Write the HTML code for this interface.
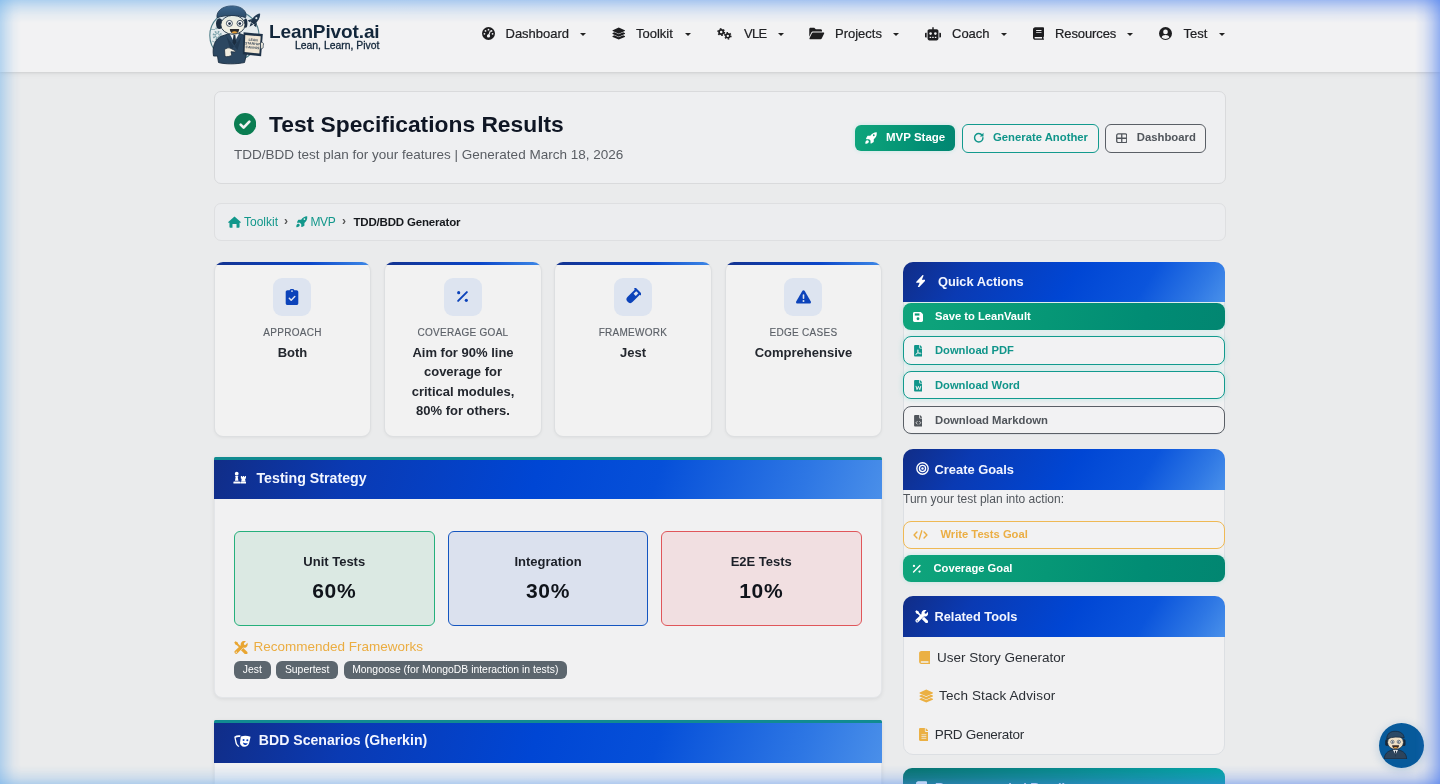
<!DOCTYPE html>
<html lang="en">
<head>
<meta charset="utf-8">
<title>Test Specifications Results - LeanPivot.ai</title>
<style>
*{box-sizing:border-box;margin:0;padding:0}
html,body{width:1440px;height:784px;overflow:hidden}
body{position:relative;background:#eaebec;font-family:"Liberation Sans",Arial,sans-serif;color:#212529;-webkit-font-smoothing:antialiased}
.abs{position:absolute}
svg{display:block}
.t{position:absolute;white-space:nowrap;line-height:1;transform-origin:0 50%}
/* navbar */
#nav{position:absolute;left:0;top:0;width:1440px;height:72px;background:#f2f2f3;box-shadow:0 1px 2px rgba(0,0,0,.07),0 2px 6px rgba(0,0,0,.06)}
.ni{position:absolute;top:26px;height:16px;display:flex;align-items:center;color:#222;font-size:13px;font-weight:400}
.ni svg{position:absolute;top:50%;transform:translateY(-50%);fill:#1d1d1f}
.caret{position:absolute;top:32.900px;width:0;height:0;border-left:3.200px solid transparent;border-right:3.200px solid transparent;border-top:3.600px solid #222}
/* cards */
.card{position:absolute;background:#f1f1f2;border:1px solid #dddfe1;border-radius:7px}
.hdr{position:absolute;left:0;right:0;top:0;background:linear-gradient(122deg,#112d87 0%,#0a3ab3 21%,#0046d4 52%,#0b55dc 74%,#2e77e4 90%,#4990ea 100%)}
.hdr .t{color:#f2f5ff;font-weight:700}
.btn{position:absolute;border-radius:7px;font-weight:700;font-size:11px}
.g{background:linear-gradient(100deg,#0fa57c 0%,#069776 45%,#018c74 75%,#028671 100%);color:#fff;box-shadow:0 0 4px rgba(45,212,191,.22)}
.ot{border:1.5px solid #129a8e;color:#10958a;background:#f2f2f3}
.og{border:1.5px solid #5a5f66;color:#50555b;background:#f2f2f3}
.oa{border:1.5px solid #efb955;color:#ebae44;background:#f2f2f3}
.nt{font-size:13px;line-height:18px;color:#202124;-webkit-text-stroke:.2px #202124}
.sc{top:262px;width:157px;height:175px;border-radius:9px;background:#f2f2f2;box-shadow:0 1px 3px rgba(0,0,0,.05)}
.bar{position:absolute;left:-1px;right:-1px;top:-1px;height:12px;border-radius:9px 9px 0 0;clip-path:inset(0 0 9px 0);background:linear-gradient(90deg,#14338f 0%,#0a45c8 60%,#3f8ae8 100%)}
.ib{position:absolute;left:50%;margin-left:-19.400px;top:14.500px;width:38.300px;height:38px;border-radius:9px;background:#dde4f0;display:flex;align-items:center;justify-content:center}
.lb{position:absolute;left:0;right:0;top:62.500px;text-align:center;font-size:10px;line-height:14px;letter-spacing:.28px;color:#5c6168;-webkit-text-stroke:.15px #5c6168}
.vl{position:absolute;left:6px;right:6px;text-align:center;font-size:13px;line-height:19.400px;font-weight:700;color:#23272e}
.mc{border-radius:2px 2px 8px 8px;box-shadow:0 1px 4px rgba(0,0,0,.08);border-color:#e3e5e8}
.tb{position:absolute;top:73px;width:200.500px;height:94.500px;border:1px solid;border-radius:6px;text-align:center;color:#1c2028;font-weight:700}
.t1{position:absolute;left:0;right:0;top:21px;font-size:13px;line-height:18px}
.t2{position:absolute;left:0;right:0;top:45px;font-size:21px;line-height:28px;letter-spacing:.6px;color:#10141b}
.bdg{position:absolute;top:202.800px;height:18px;border-radius:6px;background:#5c666e;color:#fff;font-size:10.400px;line-height:18px;text-align:center;white-space:nowrap}
.sb{left:903px;width:322px;border-radius:10px;border-color:#dcdfe3}
.sh{left:-1px;right:-1px;top:-1px;border-radius:10px 10px 0 0}
.sbtn{left:-1px;right:-1px;border-radius:8px;font-size:11.200px}
.sbtn .t{line-height:16px}
.sbtn.ot{box-shadow:0 0 5px 1px rgba(45,212,191,.20)}
.rl{font-size:13.500px;line-height:20px;color:#2b2f35}
</style>
</head>
<body>
<!--NAV-->
<div id="nav">
  <!-- mascot logo -->
  <svg class="abs" style="left:200px;top:0" width="80" height="72" viewBox="0 0 80 72">
    <circle cx="34.400" cy="35.600" r="24.600" fill="#e6ecee" stroke="#4f7d88" stroke-width="1.100"/>
    <g fill="none" stroke="#7fa3ab"><circle cx="17.300" cy="35.500" r="3.600" stroke-width="2.200" stroke-dasharray="1.500 1.330"/><circle cx="17.300" cy="35.500" r="2" stroke-width="1"/><path d="M10.500 29.500h4.500l1.500-1.500M12 41l3.500 1.500" stroke-width=".8"/><circle cx="16.800" cy="28" r=".9" stroke-width=".7"/></g>
    <!-- rocket -->
    <g transform="rotate(38 54.500 20.500)"><path d="M54.500 11.500c2.600 2.500 3.400 6.500 2.600 12.500h-5.200c-.8-6 0-10 2.600-12.500z" fill="#1e3247"/><path d="M51.700 20.500l-2.700 4.200 3 .1zM57.300 20.500l2.700 4.200-3 .1zM53 24.500h3l-1.500 4z" fill="#1e3247"/><circle cx="54.500" cy="17.500" r="1.100" fill="#e6ecee"/></g>
    <!-- suit body -->
    <path d="M13.500 56c-1.500-9 1.500-17.500 8.500-20l8.500-2.800h8l7.500 2.800c1.500 5 1.500 11 1 16l-2.500 10.500c-8 1.800-20 1.800-26 0l-1-6.500z" fill="#2c4761" stroke="#1a2c3f" stroke-width=".9"/>
    <path d="M29.500 33.500l4.800 9 4.800-9z" fill="#f2f5f6"/>
    <path d="M33.500 35h1.800l1 7.500-1.900 3-1.900-3z" fill="#1b2d40"/>
    <path d="M26.500 36.500l7.500 10-3.500 3.500zM41.500 36.500l-7 10 3 3.500z" fill="#223a52"/>
    <!-- pointing hand -->
    <path d="M24.500 49.500c2-1.500 4-2 5.500-1.500l5 2.500c.8.500.3 1.500-.5 1.500l-3.500-.3.800 3.300c-1.500 1.500-4.500 2-6.800 1.500z" fill="#f0ece0" stroke="#1a2c3f" stroke-width=".8"/>
    <!-- clipboard -->
    <path d="M43.600 32.300l19.200 1.700-1.700 22.300-18.300-2z" fill="#1e3247"/>
    <path d="M45.300 35l15.400 1.300-1.300 17.300-14.800-1.500z" fill="#f0e6d4"/>
    <g font-family="Liberation Sans,Arial,sans-serif" font-weight="700" font-size="3.300" fill="#1e3247" text-anchor="middle" transform="rotate(5 52.500 44)"><text x="52.800" y="41">LEAN</text><text x="52.800" y="44.800">STARTUP</text><text x="52.800" y="48.600">CANVAS</text></g>
    <path d="M60.500 42.500c1.500-.5 3 .2 3 1.500s-.5 1.500-.3 2.500-.5 2.500-2.500 2.500z" fill="#f0ece0" stroke="#1a2c3f" stroke-width=".7"/>
    <!-- head -->
    <ellipse cx="19.400" cy="23.600" rx="3.400" ry="5.400" fill="#1b2d40"/>
    <ellipse cx="45.600" cy="23.200" rx="1.800" ry="4.600" fill="#1b2d40"/>
    <ellipse cx="32.900" cy="24.800" rx="12.100" ry="9.500" fill="#f1f0e3" stroke="#1a2c3f" stroke-width=".9"/>
    <path d="M17 17.600c-.8-6.500 5.500-11.500 14.500-11.700 8.500-.2 14.500 4 14.500 9.200 0 1-.2 1.800-.5 2.500-8-2.800-19.500-2.800-28.500 0z" fill="#2b4a66" stroke="#1a2c3f" stroke-width=".9"/>
    <circle cx="29.400" cy="23.400" r="3" fill="#fff" stroke="#1b2d40" stroke-width=".8"/>
    <circle cx="40" cy="23.400" r="3" fill="#fff" stroke="#1b2d40" stroke-width=".8"/>
    <circle cx="29.600" cy="23.600" r="1.400" fill="#1b2d40"/><circle cx="39.800" cy="23.600" r="1.400" fill="#1b2d40"/>
    <path d="M29.800 29h9.400c0 3.200-2 4.800-4.700 4.800s-4.700-1.600-4.700-4.800z" fill="#2a2a2c"/>
    <path d="M31.600 32.200c1.500-1.200 4.300-1.200 5.800 0-1 1.500-4.800 1.500-5.800 0z" fill="#e9a23b"/>
  </svg>
  <div class="t" id="brand" style="left:269px;top:20px;font-size:19px;font-weight:700;color:#12263a;letter-spacing:-.12px;line-height:24px">LeanPivot.ai</div>
  <div class="t" id="tag" style="left:295px;top:38.500px;font-size:10.400px;color:#12263a;line-height:14px;-webkit-text-stroke:.3px #12263a">Lean, Learn, Pivot</div>

  <!-- Dashboard -->
  <svg class="abs" style="left:482px;top:27px" width="13" height="13" viewBox="0 0 16 16"><circle cx="8" cy="8" r="8" fill="#1d1d1f"/><g fill="#f2f2f3"><circle cx="8" cy="3.300" r="1.100"/><circle cx="4.300" cy="4.800" r="1.100"/><circle cx="11.700" cy="4.800" r="1.100"/><circle cx="3" cy="8.400" r="1.100"/><circle cx="13" cy="8.400" r="1.100"/><circle cx="8" cy="11" r="2"/><path d="M7.300 10.500l2.600-6.300 1.200.5-2.500 6.300z"/></g></svg>
  <div class="t nt" style="left:505.500px;top:25.200px">Dashboard</div><i class="caret" style="left:579.500px"></i>
  <!-- Toolkit -->
  <svg class="abs" style="left:611.500px;top:27px" width="13.500" height="13" viewBox="0 0 16 16"><path fill="#1d1d1f" d="M8 .6l7.400 3.300c.5.200.5.900 0 1.100L8 8.300.6 5C.1 4.800.1 4.100.6 3.900z"/><path fill="#1d1d1f" d="M.6 7.500l2-.9L8 9l5.400-2.400 2 .9c.5.200.5.900 0 1.100L8 11.900.6 8.600c-.5-.2-.5-.9 0-1.100z"/><path fill="#1d1d1f" d="M.6 11.100l2-.9L8 12.600l5.400-2.400 2 .9c.5.200.5.900 0 1.100L8 15.500.6 12.200c-.5-.2-.5-.9 0-1.100z"/></svg>
  <div class="t nt" style="left:636px;top:25.200px">Toolkit</div><i class="caret" style="left:685px"></i>
  <!-- VLE gears -->
  <svg class="abs" style="left:717.300px;top:27.800px" width="15" height="11.850" viewBox="0 0 19 15"><g fill="none" stroke="#1d1d1f"><circle cx="5.300" cy="5.200" r="2.700" stroke-width="2.200"/><circle cx="5.300" cy="5.200" r="4.100" stroke-width="1.900" stroke-dasharray="2 2.290"/><circle cx="13.700" cy="9.900" r="2.500" stroke-width="2"/><circle cx="13.700" cy="9.900" r="3.900" stroke-width="1.900" stroke-dasharray="1.900 2.180"/></g></svg>
  <div class="t nt" style="left:744px;top:25.200px;letter-spacing:-.7px">VLE</div><i class="caret" style="left:777.500px"></i>
  <!-- Projects folder-open -->
  <svg class="abs" style="left:809px;top:27px" width="15.500" height="13" viewBox="0 0 18 15"><path fill="#1d1d1f" d="M1.800.8h4.300l1.800 1.800h5.600c.9 0 1.600.7 1.600 1.600v.9H4.700c-.9 0-1.700.5-2.100 1.300L.3 11.300V2.300C.3 1.500 1 .8 1.800.8z"/><path fill="#1d1d1f" d="M4.700 6.300h12.100c.7 0 1.100.7.800 1.300l-2.800 5.700c-.3.500-.8.900-1.400.9H1.300c-.6 0-1-.6-.7-1.200l2.800-5.900c.2-.5.700-.8 1.300-.8z"/></svg>
  <div class="t nt" style="left:835px;top:25.200px">Projects</div><i class="caret" style="left:893px"></i>
  <!-- Coach robot -->
  <svg class="abs" style="left:925px;top:26.500px" width="16" height="14" viewBox="0 0 20 17"><path fill="#1d1d1f" d="M9.100 0h1.800v2.600h3.600c1.300 0 2.300 1 2.300 2.300v9.300c0 1.300-1 2.300-2.300 2.300h-9c-1.300 0-2.300-1-2.300-2.300V4.900c0-1.300 1-2.300 2.300-2.300h3.600zM0 7.800c0-.6.400-1 1-1h1.100v6H1c-.6 0-1-.4-1-1zM17.900 6.800H19c.6 0 1 .4 1 1v4c0 .6-.4 1-1 1h-1.100z"/><g fill="#f2f2f3"><circle cx="7" cy="8" r="1.600"/><circle cx="13" cy="8" r="1.600"/><rect x="5.800" y="12" width="1.900" height="1.500"/><rect x="9" y="12" width="1.900" height="1.500"/><rect x="12.300" y="12" width="1.900" height="1.500"/></g></svg>
  <div class="t nt" style="left:952px;top:25.200px">Coach</div><i class="caret" style="left:1001px"></i>
  <!-- Resources book -->
  <svg class="abs" style="left:1033px;top:27px" width="11" height="13" viewBox="0 0 14 16"><path fill="#1d1d1f" d="M2.800 0h10.100c.6 0 1.100.5 1.100 1.100v10.300c0 .5-.3.900-.7 1v2h.1c.4 0 .6.300.6.800s-.2.800-.6.800H2.800C1.200 16 0 14.800 0 13.300V2.800C0 1.200 1.200 0 2.800 0z"/><path fill="#f2f2f3" d="M2.800 12.600c-.5 0-.9.400-.9.900s.4.900.9.900h8.700v-1.800zM4 3.700h6.800v1.200H4zM4 6.300h6.800v1.200H4z"/></svg>
  <div class="t nt" style="left:1055px;top:25.200px;letter-spacing:-.1px">Resources</div><i class="caret" style="left:1127px"></i>
  <!-- Test user -->
  <svg class="abs" style="left:1158.500px;top:27px" width="13" height="13" viewBox="0 0 16 16"><circle cx="8" cy="8" r="8" fill="#1d1d1f"/><circle cx="8" cy="6" r="2.900" fill="#f2f2f3"/><path fill="#f2f2f3" d="M3.200 12.600c.7-1.900 2.300-2.900 4.800-2.900s4.100 1 4.800 2.900c-1.200 1.300-2.900 2.100-4.800 2.100s-3.600-.8-4.800-2.100z"/></svg>
  <div class="t nt" style="left:1183.500px;top:25.200px">Test</div><i class="caret" style="left:1219px"></i>
</div>
<!--/NAV-->
<!--TITLE-->
<div class="card" id="titlecard" style="left:214px;top:91px;width:1012px;height:93px;background:#eeeff1;border-color:#d9dadc">
  <svg class="abs" style="left:19px;top:21.200px" width="22.200" height="22.200" viewBox="0 0 24 24"><circle cx="12" cy="12" r="12" fill="#0a7d52"/><path d="M7.200 12.600l3.200 3.200 6.200-6.400" fill="none" stroke="#f1f2f3" stroke-width="2.900" stroke-linecap="round" stroke-linejoin="round"/></svg>
  <div class="t" id="h1" style="left:54px;top:17.200px;font-size:22.800px;font-weight:700;color:#0f1624;line-height:30px;letter-spacing:0px">Test Specifications Results</div>
  <div class="t" id="sub" style="left:19px;top:54px;font-size:13.500px;color:#595d63;line-height:18px">TDD/BDD test plan for your features | Generated March 18, 2026</div>
  <!-- buttons -->
  <div class="btn g" id="b1" style="left:640px;top:33.300px;width:100px;height:25.700px;border-radius:6px">
    <svg class="abs" style="left:10px;top:7px" width="12" height="12" viewBox="0 0 16 16"><path fill="#fff" d="M15.600.4c.5 3.800-.8 7-3.900 9.300v3.100c0 .4-.2.800-.6 1l-2.700 1.500c-.5.300-1.100-.1-1.100-.7v-3.200L5.400 9.500H2.200c-.6 0-1-.6-.7-1.100L3 5.700c.2-.4.600-.6 1-.6h3.100C9.400 2 12.600.2 15.600.4zM11.700 5.500a1.200 1.200 0 100-2.400 1.200 1.200 0 000 2.400zM.5 15.500c-.2-2 .3-3.500 1.500-4.300.9-.6 2.100-.4 2.700.3.700.8.600 2-.2 2.700-.9.900-2.200 1.300-4 1.300z"/></svg>
    <div class="t" style="left:31px;top:4.200px;font-size:11.500px;line-height:16px">MVP Stage</div>
  </div>
  <div class="btn ot" id="b2" style="left:747px;top:32px;width:136.800px;height:28.500px;border-radius:6px">
    <svg class="abs" style="left:9.500px;top:7px" width="11.500" height="11.500" viewBox="0 0 16 16"><path fill="none" stroke="#10958a" stroke-width="2" stroke-linecap="round" d="M13.800 8A5.800 5.800 0 118 2.200c2 0 3.700 1 4.800 2.500"/><path fill="#10958a" d="M14.600 1v5.200H9.400z"/></svg>
    <div class="t" style="left:30px;top:4.200px;font-size:11.300px;line-height:16px">Generate Another</div>
  </div>
  <div class="btn og" id="b3" style="left:890.300px;top:32px;width:100.500px;height:28.500px;border-radius:6px">
    <svg class="abs" style="left:9.500px;top:7.500px" width="11.500" height="10.500" viewBox="0 0 16 14"><rect x="1" y="1" width="14" height="12" rx="2" fill="none" stroke="#50555b" stroke-width="1.800"/><path d="M8 1v12M1 7h14" stroke="#50555b" stroke-width="1.800"/></svg>
    <div class="t" style="left:30.500px;top:4.200px;font-size:11.300px;line-height:16px">Dashboard</div>
  </div>
</div>
<div class="card" id="bc" style="left:214px;top:203px;width:1012px;height:38px;background:#ecedef;border-color:#dedfe1">
  <svg class="abs" style="left:13px;top:11.500px" width="13" height="12" viewBox="0 0 16 14"><path fill="#12978b" d="M8 .3l7.700 6.600c.4.400.2 1-.4 1h-1.100v5.200c0 .5-.4.900-.9.900h-2.800V9.500h-5V14H2.700c-.5 0-.9-.4-.9-.9V7.900H.7c-.6 0-.8-.6-.4-1z"/></svg>
  <div class="t" id="bc1" style="left:29px;top:9.500px;font-size:12px;line-height:16px;color:#12978b">Toolkit</div>
  <div class="t" style="left:69px;top:9px;font-size:12px;line-height:16px;color:#555;font-weight:700">›</div>
  <svg class="abs" style="left:81px;top:12px" width="11.500" height="11.500" viewBox="0 0 16 16"><path fill="#12978b" d="M15.600.4c.5 3.800-.8 7-3.900 9.300v3.100c0 .4-.2.800-.6 1l-2.700 1.500c-.5.300-1.100-.1-1.100-.7v-3.200L5.400 9.500H2.200c-.6 0-1-.6-.7-1.100L3 5.700c.2-.4.600-.6 1-.6h3.100C9.400 2 12.600.2 15.600.4zM11.700 5.500a1.200 1.200 0 100-2.400 1.200 1.200 0 000 2.400zM.5 15.500c-.2-2 .3-3.500 1.500-4.300.9-.6 2.100-.4 2.700.3.700.8.600 2-.2 2.700-.9.900-2.200 1.300-4 1.300z"/></svg>
  <div class="t" id="bc2" style="left:95.500px;top:9.500px;font-size:12px;line-height:16px;color:#12978b;letter-spacing:-.4px">MVP</div>
  <div class="t" style="left:127px;top:9px;font-size:12px;line-height:16px;color:#555;font-weight:700">›</div>
  <div class="t" id="bc3" style="left:138.500px;top:9.500px;font-size:11.500px;line-height:16px;color:#16191d;font-weight:700;letter-spacing:-.18px">TDD/BDD Generator</div>
</div>
<!--/TITLE-->
<!--STATS-->
<div class="card sc" style="left:214px;width:157px"><i class="bar"></i><div class="ib">
  <svg width="14" height="16" viewBox="0 0 14 16"><path fill="#0c43ba" d="M4.600 1.300C4.900.5 5.700 0 6.600 0h.8c.9 0 1.700.5 2 1.300h2.100c1 0 1.800.8 1.800 1.800v11.100c0 1-.8 1.800-1.800 1.800h-9c-1 0-1.800-.8-1.800-1.800V3.100c0-1 .8-1.800 1.800-1.800zM7 1.200a.9.900 0 100 1.800.9.900 0 000-1.800z"/><path d="M4.300 9.300l1.900 1.900 3.600-3.700" fill="none" stroke="#dde4f0" stroke-width="1.500" stroke-linecap="round" stroke-linejoin="round"/></svg></div>
  <div class="lb">APPROACH</div><div class="vl" style="top:80px">Both</div></div>
<div class="card sc" style="left:384px;width:158px"><i class="bar"></i><div class="ib">
  <svg width="13" height="13" viewBox="0 0 14 14"><path d="M2.300 11.700l9.400-9.400" stroke="#0c43ba" stroke-width="2.100" stroke-linecap="round"/><circle cx="2.900" cy="2.900" r="1.700" fill="#0c43ba"/><circle cx="11.100" cy="11.100" r="1.700" fill="#0c43ba"/></svg></div>
  <div class="lb">COVERAGE GOAL</div><div class="vl" style="top:80px">Aim for 90% line<br>coverage for<br>critical modules,<br>80% for others.</div></div>
<div class="card sc" style="left:554px;width:158px"><i class="bar"></i><div class="ib">
  <svg width="16.500" height="16.500" viewBox="0 0 16 16"><g transform="rotate(45 8 8)"><path fill="#0c43ba" d="M4.300.5h7.400c.6 0 1 .4 1 1s-.4 1-1 1h-.2v9.700a3.500 3.500 0 01-7 0V2.500h-.2c-.6 0-1-.4-1-1s.4-1 1-1z"/><path fill="#dde4f0" d="M6.500 2.500h3v3.600h-3z"/></g></svg></div>
  <div class="lb">FRAMEWORK</div><div class="vl" style="top:80px">Jest</div></div>
<div class="card sc" style="left:725px;width:157px"><i class="bar"></i><div class="ib">
  <svg width="15" height="14" viewBox="0 0 16 14.500"><path fill="#0c43ba" d="M8 0c.5 0 1 .3 1.300.8l6.500 11.300c.5 1-.2 2.200-1.300 2.200h-13c-1.100 0-1.800-1.200-1.300-2.200L6.700.8C7 .3 7.500 0 8 0z"/><rect x="7.150" y="4.300" width="1.700" height="5" rx=".85" fill="#dde4f0"/><circle cx="8" cy="11.400" r="1.050" fill="#dde4f0"/></svg></div>
  <div class="lb">EDGE CASES</div><div class="vl" style="top:80px">Comprehensive</div></div>
<!--/STATS-->
<!--STRATEGY-->
<div class="card mc" id="strat" style="left:214px;top:457px;width:668px;height:241px">
  <div class="hdr" style="left:-1px;right:-1px;top:-1px;height:41.500px;border-top:3px solid #118b91;border-radius:1.500px 1.500px 0 0;background:linear-gradient(108deg,#112d87 0%,#0a3ab3 20%,#0046d4 48%,#0650d9 66%,#2e77e4 88%,#4a8fe9 100%)">
    <svg class="abs" style="left:19.300px;top:11px" width="13.200" height="13.500" viewBox="0 0 16 15"><g fill="#fff"><circle cx="4.500" cy="2.600" r="2.300"/><path d="M2.300 5.300h4.400l-.9 1.200.8 4.700H2.400l.8-4.700zM1.200 11.900h6.600c.4 0 .7.300.7.700v1.900H.5v-1.900c0-.4.300-.7.700-.7z"/><path d="M9.600 5.300h1.300v1h1.100v-1h1.400v1h1.100v-1h1.200v2.800l-1 .8.500 3H10l.5-3-1-.8zM9.300 12.500h6.100c.3 0 .6.300.6.600v1.400H8.800v-1.400c0-.3.200-.6.500-.6z"/></g></svg>
    <div class="t" id="ts" style="left:42.500px;top:7.500px;font-size:14.200px;line-height:20px">Testing Strategy</div>
  </div>
  <div class="tb" style="left:19px;background:#dbe9e3;border-color:#25b07c"><div class="t1">Unit Tests</div><div class="t2">60%</div></div>
  <div class="tb" style="left:233px;width:200px;background:#dbe1ee;border-color:#1455c0"><div class="t1">Integration</div><div class="t2">30%</div></div>
  <div class="tb" style="left:446px;background:#f1dfe1;border-color:#e0565a"><div class="t1">E2E Tests</div><div class="t2">10%</div></div>
  <svg class="abs" style="left:19px;top:182.500px" width="13.500" height="13.500" viewBox="0 0 16 16"><g fill="#e9a632"><path d="M.3 1.700L1.700.3l2.800 1.600.4 1.500L8.400 6.900 6.900 8.400 3.400 4.900l-1.500-.4z"/><path d="M10.940 8.260l4.600 4.600a1.900 1.900 0 01-2.680 2.680l-4.600-4.600z"/><path d="M12.200 0c.7 0 1.300.1 1.900.4l-2.400 2.400.3 1.500 1.500.3 2.400-2.400c.2.600.3 1.200.3 1.800a4 4 0 01-5.300 3.800L4.100 14.600a2.050 2.050 0 01-2.900-2.900L8 4.900A4 4 0 0112.200 0zM2.700 12.400a.8.800 0 100 1.600.8.800 0 000-1.600z" fill-rule="evenodd"/></g></svg>
  <div class="t" id="rf" style="left:38.500px;top:180px;font-size:13.500px;line-height:18px;color:#ebad42">Recommended Frameworks</div>
  <div class="bdg" style="left:19px;width:36.500px">Jest</div>
  <div class="bdg" style="left:61px;width:62.300px">Supertest</div>
  <div class="bdg" style="left:129px;width:222.500px">Mongoose (for MongoDB interaction in tests)</div>
</div>
<!--/STRATEGY-->
<!--BDD-->
<div class="card mc" id="bdd" style="left:214px;top:720px;width:668px;height:120px">
  <div class="hdr" style="left:-1px;right:-1px;top:-1px;height:42.500px;border-top:3px solid #118b91;border-radius:1.500px 1.500px 0 0;background:linear-gradient(108deg,#112d87 0%,#0a3ab3 20%,#0046d4 48%,#0650d9 66%,#2e77e4 88%,#4a8fe9 100%)">
    <svg class="abs" style="left:19.500px;top:10.500px" width="17" height="13.500" viewBox="0 0 20 16"><g fill="#fff"><path d="M.2 3.300C2.500 1.700 5 1.200 7.800 1.800L7 3.600c-1.900-.3-3.600 0-5.100.9l1.500 6.400c.3 1.200 1 2.100 2 2.700l.9 1.900c-2.300-.6-4-2.200-4.600-4.500z"/><path d="M8 3.100c3.600-1.500 7.300-1.500 11.600.2l-1.700 7.400c-.7 2.900-3.300 4.800-6.200 4.500-2.400-.3-4.300-2.100-4.700-4.500z"/></g><g fill="#0a3db8"><circle cx="11.300" cy="7" r="1.200"/><circle cx="15.700" cy="7.400" r="1.200"/><path d="M10.600 10.100c1.700 1 3.600 1.200 5.600.5-.5 1.600-1.700 2.500-3.200 2.400-1.400-.1-2.300-1.200-2.400-2.900z"/></g></svg>
    <div class="t" id="bs" style="left:44.800px;top:7.400px;font-size:14.100px;line-height:20px">BDD Scenarios (Gherkin)</div>
  </div>
</div>
<!--/BDD-->
<!--SIDEBAR-->
<div class="card sb" id="qa" style="top:262px;height:172.500px">
  <div class="hdr sh" style="height:40px">
    <svg class="abs" style="left:12.700px;top:12.600px" width="9.600" height="12.800" viewBox="0 0 12 16"><path fill="#fff" d="M8.700 0c.6 0 .9.500.7 1L7.300 6h3.800c.7 0 1 .8.500 1.300L3.300 15.800c-.6.500-1.400-.1-1.100-.8L4.600 9.700H.9c-.7 0-1-.8-.5-1.300L8 .3c.2-.2.400-.3.700-.3z"/></svg>
    <div class="t" id="qat" style="left:35px;top:9.500px;font-size:12.800px;line-height:20px">Quick Actions</div>
  </div>
  <div class="btn g sbtn" style="top:40px;height:27px">
    <svg class="abs" style="left:9.500px;top:8.500px" width="10" height="10" viewBox="0 0 14 14"><path fill="#fff" d="M2 0h8.200c.5 0 1 .2 1.400.6l1.800 1.800c.4.400.6.900.6 1.400V12c0 1.100-.9 2-2 2H2c-1.100 0-2-.9-2-2V2C0 .9.900 0 2 0z"/><path fill="#0c9a77" d="M2.500 2h6.500v3H2.500z"/><circle cx="7" cy="9.500" r="2" fill="#0c9a77"/></svg>
    <div class="t" style="left:32px;top:4.700px">Save to LeanVault</div>
  </div>
  <div class="btn ot sbtn" style="top:73px;height:29px">
    <svg class="abs" style="left:9.700px;top:8.300px" width="8.800" height="11.500" viewBox="0 0 12 16"><path fill="#10958a" d="M1.500 0h5.700v3.800c0 .6.400 1 1 1H12v9.700c0 .8-.7 1.500-1.500 1.500h-9C.7 16 0 15.300 0 14.500v-13C0 .7.700 0 1.500 0zM8.200 0L12 3.800H8.200z"/><path fill="none" stroke="#f3f4f5" stroke-width="1" d="M2.200 13.200c1.200-.6 2.200-1.800 3-3.600.6-1.400.8-2.500.4-2.900-.4-.3-.9.100-.8 1 .2 1.600 1.300 3.200 3.200 4.300 1 .5 1.700.3 1.700-.2 0-.6-1-.8-2.500-.6-1.700.2-3.400.8-5 2z"/></svg>
    <div class="t" style="left:31px;top:4.700px">Download PDF</div>
  </div>
  <div class="btn ot sbtn" style="top:108px;height:28px">
    <svg class="abs" style="left:9.700px;top:8.300px" width="8.800" height="11.500" viewBox="0 0 12 16"><path fill="#10958a" d="M1.500 0h5.700v3.800c0 .6.400 1 1 1H12v9.700c0 .8-.7 1.500-1.500 1.500h-9C.7 16 0 15.300 0 14.500v-13C0 .7.700 0 1.500 0zM8.200 0L12 3.800H8.200z"/><path fill="none" stroke="#f3f4f5" stroke-width="1.300" stroke-linejoin="round" d="M2.600 8.200l1.500 5.200L6 8.800l1.900 4.600 1.500-5.200"/></svg>
    <div class="t" style="left:31px;top:5.200px">Download Word</div>
  </div>
  <div class="btn og sbtn" style="top:143px;height:28px">
    <svg class="abs" style="left:9.700px;top:8.300px" width="8.800" height="11.500" viewBox="0 0 12 16"><path fill="#50555b" d="M1.500 0h5.700v3.800c0 .6.400 1 1 1H12v9.700c0 .8-.7 1.500-1.500 1.500h-9C.7 16 0 15.300 0 14.500v-13C0 .7.700 0 1.500 0zM8.200 0L12 3.800H8.200z"/><path fill="none" stroke="#f3f4f5" stroke-width="1.100" stroke-linecap="round" stroke-linejoin="round" d="M4.300 9L2.700 10.800l1.600 1.800M7.700 9l1.600 1.800-1.600 1.800"/></svg>
    <div class="t" style="left:31px;top:5.200px;font-size:11.300px">Download Markdown</div>
  </div>
</div>

<div class="card sb" id="cg" style="top:449px;height:133px">
  <div class="hdr sh" style="height:41px">
    <svg class="abs" style="left:12.500px;top:13px" width="13" height="13" viewBox="0 0 16 16"><g fill="none" stroke="#fff"><circle cx="8" cy="8" r="7" stroke-width="1.700"/><circle cx="8" cy="8" r="3.800" stroke-width="1.600"/></g><circle cx="8" cy="8" r="1.500" fill="#fff"/></svg>
    <div class="t" id="cgt" style="left:31.500px;top:10.500px;font-size:12.900px;line-height:20px">Create Goals</div>
  </div>
  <div class="t" id="turn" style="left:-1px;top:41.300px;font-size:12px;line-height:16px;color:#51565c;letter-spacing:0">Turn your test plan into action:</div>
  <div class="btn oa sbtn" style="top:71px;height:28px">
    <svg class="abs" style="left:9px;top:7.500px" width="15" height="10" viewBox="0 0 18 12"><path fill="none" stroke="#ebae44" stroke-width="1.700" stroke-linecap="round" stroke-linejoin="round" d="M4.700 2.500L1.300 6l3.400 3.500M13.300 2.500L16.700 6l-3.400 3.500M10.500 1L7.500 11"/></svg>
    <div class="t" style="left:36.500px;top:4.300px">Write Tests Goal</div>
  </div>
  <div class="btn g sbtn" style="top:105px;height:27px">
    <svg class="abs" style="left:8.500px;top:9px" width="9.500" height="9.500" viewBox="0 0 14 14"><path d="M2.300 11.700l9.400-9.400" stroke="#fff" stroke-width="2.100" stroke-linecap="round"/><circle cx="2.900" cy="2.900" r="1.700" fill="#fff"/><circle cx="11.100" cy="11.100" r="1.700" fill="#fff"/></svg>
    <div class="t" style="left:30.500px;top:4.800px">Coverage Goal</div>
  </div>
</div>

<div class="card sb" id="rt" style="top:596px;height:158.500px">
  <div class="hdr sh" style="height:41px">
    <svg class="abs" style="left:12.200px;top:13.500px" width="13.100" height="13.100" viewBox="0 0 16 16"><g fill="#fff"><path d="M.3 1.700L1.700.3l2.800 1.600.4 1.500L8.400 6.900 6.900 8.400 3.400 4.900l-1.500-.4z"/><path d="M10.940 8.260l4.600 4.600a1.900 1.900 0 01-2.680 2.680l-4.600-4.600z"/><path d="M12.200 0c.7 0 1.300.1 1.900.4l-2.400 2.400.3 1.500 1.500.3 2.400-2.400c.2.600.3 1.200.3 1.800a4 4 0 01-5.300 3.800L4.100 14.600a2.050 2.050 0 01-2.900-2.900L8 4.900A4 4 0 0112.200 0zM2.700 12.400a.8.800 0 100 1.600.8.800 0 000-1.600z" fill-rule="evenodd"/></g></svg>
    <div class="t" id="rtt" style="left:31.500px;top:10.500px;font-size:12.800px;line-height:20px">Related Tools</div>
  </div>
  <svg class="abs" style="left:14.500px;top:53.700px" width="11.600" height="13" viewBox="0 0 14 16"><path fill="#ebb043" d="M2.800 0h10.100c.6 0 1.100.5 1.100 1.100v10.300c0 .5-.3.900-.7 1v2h.1c.4 0 .6.300.6.800s-.2.800-.6.800H2.800C1.200 16 0 14.800 0 13.300V2.800C0 1.200 1.200 0 2.800 0z"/><path fill="#f1f2f3" d="M2.800 12.600c-.5 0-.9.400-.9.900s.4.900.9.900h8.700v-1.800z"/></svg>
  <div class="t rl" id="r1" style="left:33px;top:51px">User Story Generator</div>
  <svg class="abs" style="left:14.500px;top:91.500px" width="14.500" height="14" viewBox="0 0 16 16"><g fill="#ebb043"><path d="M8 .6l7.400 3.300c.5.200.5.900 0 1.100L8 8.300.6 5C.1 4.800.1 4.100.6 3.900z"/><path d="M.6 7.500l2-.9L8 9l5.400-2.400 2 .9c.5.200.5.900 0 1.100L8 11.900.6 8.600c-.5-.2-.5-.9 0-1.100z"/><path d="M.6 11.100l2-.9L8 12.600l5.400-2.400 2 .9c.5.200.5.900 0 1.100L8 15.500.6 12.200c-.5-.2-.5-.9 0-1.100z"/></g></svg>
  <div class="t rl" id="r2" style="left:35px;top:89px;letter-spacing:.13px">Tech Stack Advisor</div>
  <svg class="abs" style="left:14.500px;top:131px" width="9.800" height="13" viewBox="0 0 12 16"><path fill="#ebb043" d="M1.500 0h5.700v3.800c0 .6.400 1 1 1H12v9.700c0 .8-.7 1.500-1.500 1.500h-9C.7 16 0 15.300 0 14.500v-13C0 .7.700 0 1.500 0zM8.200 0L12 3.800H8.200z"/><path stroke="#f1f2f3" stroke-width=".9" fill="none" d="M3 8.300h6M3 10.500h6M3 12.700h6"/></svg>
  <div class="t rl" id="r3" style="left:30.700px;top:128px;letter-spacing:-.3px">PRD Generator</div>
</div>

<div class="card sb" id="rr" style="top:767.500px;height:60px;border:none">
  <div class="hdr" style="height:41px;border-radius:9px 9px 0 0;background:linear-gradient(100deg,#06736e 0%,#068a8a 50%,#04a5a5 100%)">
    <svg class="abs" style="left:13px;top:13px" width="11" height="13" viewBox="0 0 14 16"><path fill="#fff" d="M2.800 0h10.100c.6 0 1.100.5 1.100 1.100v10.300c0 .5-.3.900-.7 1v2h.1c.4 0 .6.300.6.800s-.2.800-.6.800H2.800C1.200 16 0 14.800 0 13.300V2.800C0 1.200 1.200 0 2.800 0z"/></svg>
    <div class="t" style="left:32px;top:10.500px;font-size:12.800px;line-height:20px">Recommended Reading</div>
  </div>
</div>
<!--/SIDEBAR-->
<!--CHAT-->
<div class="abs" id="chat" style="left:1378.500px;top:722.500px;width:45.500px;height:45.500px;border-radius:50%;background:#075a9b;box-shadow:0 2px 10px rgba(10,90,170,.22)">
  <svg class="abs" style="left:3.500px;top:6.500px" width="27" height="30" viewBox="0 0 28 31">
    <path d="M2.500 31c0-5 3-8 7.500-9l4-1 4 1c4.500 1 7.500 4 7.500 9z" fill="#2d445c" stroke="#17283a" stroke-width=".8"/>
    <path d="M11.300 21.500l2.700 5 2.700-5z" fill="#f3f4f5"/><path d="M13.300 22.500l.7 6.500.7-6.500z" fill="#17283a"/>
    <rect x="3.300" y="10.500" width="3.600" height="7" rx="1.800" fill="#17283a"/><rect x="21.200" y="10.500" width="3.200" height="7" rx="1.600" fill="#17283a"/>
    <ellipse cx="14" cy="13.800" rx="8.300" ry="7.300" fill="#efe0c6" stroke="#17283a" stroke-width=".8"/>
    <path d="M5 10.300C4.800 4.800 9 2 14.300 2.300c5 .2 8.500 2.800 8.600 7-5-1.500-12-1.400-17.900 1z" fill="#2b4a66" stroke="#17283a" stroke-width=".8"/>
    <circle cx="10.800" cy="13.300" r="1.700" fill="#fff" stroke="#17283a" stroke-width=".6"/><circle cx="17.400" cy="13.300" r="1.700" fill="#fff" stroke="#17283a" stroke-width=".6"/>
    <circle cx="10.900" cy="13.400" r=".7" fill="#17283a"/><circle cx="17.300" cy="13.400" r=".7" fill="#17283a"/>
    <path d="M10.500 16.800h7.200c0 2.300-1.500 3.500-3.600 3.500s-3.600-1.200-3.600-3.500z" fill="#3a2a22"/><path d="M11.800 19.200c1.100-.7 3.500-.7 4.600 0-.9 1.100-3.700 1.100-4.600 0z" fill="#e9a23b"/>
  </svg>
</div>
<!--/CHAT-->
<!--GLOW-->
<div class="abs" id="glow" style="left:0;top:0;width:1440px;height:784px;pointer-events:none;background:linear-gradient(97deg,#6cb0ea 0,#5f9dec 40%,#5088ee 75%,#4577ee 100%);-webkit-mask-image:linear-gradient(to bottom,rgba(0,0,0,.50),rgba(0,0,0,.27) 7px,rgba(0,0,0,.09) 15px,transparent 23px),linear-gradient(to top,rgba(0,0,0,.44),rgba(0,0,0,.22) 6px,rgba(0,0,0,.07) 13px,transparent 19px),linear-gradient(to right,rgba(0,0,0,.46),rgba(0,0,0,.25) 7px,rgba(0,0,0,.07) 14px,transparent 21px),linear-gradient(to left,rgba(0,0,0,.56),rgba(0,0,0,.30) 8px,rgba(0,0,0,.10) 16px,transparent 25px);mask-image:linear-gradient(to bottom,rgba(0,0,0,.50),rgba(0,0,0,.27) 7px,rgba(0,0,0,.09) 15px,transparent 23px),linear-gradient(to top,rgba(0,0,0,.44),rgba(0,0,0,.22) 6px,rgba(0,0,0,.07) 13px,transparent 19px),linear-gradient(to right,rgba(0,0,0,.46),rgba(0,0,0,.25) 7px,rgba(0,0,0,.07) 14px,transparent 21px),linear-gradient(to left,rgba(0,0,0,.56),rgba(0,0,0,.30) 8px,rgba(0,0,0,.10) 16px,transparent 25px)"></div>
<!--/GLOW-->
</body>
</html>
